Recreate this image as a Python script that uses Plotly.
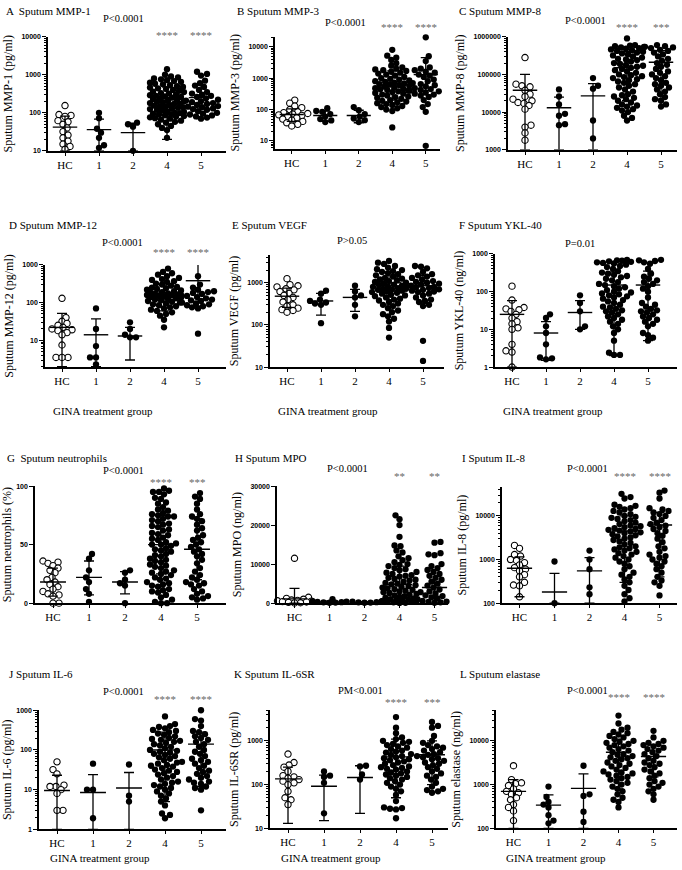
import numpy as np
import plotly.graph_objects as go

W, H = 682, 870
groups = ["HC", "1", "2", "4", "5"]

# ---------------- A  Sputum MMP-1 (pg/ml)
a_hc = [155, 90, 85, 80, 62, 58, 50, 40, 32, 26, 22, 18, 15, 13, 11]
a_g1 = [100, 72, 38, 30, 22, 14, 12]
a_g2 = [55, 50, 43, 10]
a_g4 = [1400, 1000, 900, 850, 800, 760, 720, 680, 650, 620, 580, 560, 530, 500, 480, 460, 440, 420,
        400, 380, 360, 350, 330, 320, 300, 290, 280, 270, 260, 250, 240, 230, 220, 210, 200, 195, 190,
        180, 175, 170, 160, 155, 150, 145, 140, 135, 130, 125, 120, 115, 110, 105, 100, 98, 95, 92, 90,
        86, 82, 80, 76, 72, 70, 66, 62, 58, 55, 50, 45, 40, 35, 22]
a_g5 = [1200, 1050, 950, 700, 600, 520, 480, 400, 350, 320, 300, 280, 260, 240, 220, 210, 200, 190,
        180, 170, 160, 150, 145, 140, 130, 125, 120, 110, 100, 95, 90, 85, 80, 75, 70]
a_mean = [42, 36, 30, 250, 250]
a_hi = [82, 68, 53, 480, 530]
a_lo = [10, 10, 10, 20, 70]
a_ticks = [10, 100, 1000, 10000]
a_stars = ["", "", "", "****", "****"]

# ---------------- B  Sputum MMP-3 (pg/ml)
b_hc = [200, 160, 130, 115, 100, 92, 85, 80, 75, 72, 68, 65, 60, 55, 50, 46, 42, 38, 34, 30]
b_g1 = [110, 90, 85, 72, 60, 50, 45, 40]
b_g2 = [120, 95, 72, 60, 52, 46, 40]
b_g4 = [8000, 5200, 4500, 3800, 3000, 2500, 2200, 2000, 1900, 1800, 1700, 1600, 1500, 1400, 1300,
        1200, 1100, 1000, 950, 900, 850, 800, 760, 720, 680, 650, 620, 600, 570, 540, 500, 480, 460,
        440, 420, 400, 380, 360, 340, 320, 300, 280, 260, 250, 240, 220, 200, 190, 180, 170, 160, 150,
        140, 130, 120, 110, 100, 90, 27]
b_g5 = [20000, 5000, 3500, 2200, 2000, 1800, 1600, 1500, 1300, 1200, 1100, 900, 800, 700, 650, 600,
        550, 500, 480, 450, 420, 400, 380, 350, 320, 300, 280, 250, 200, 150, 120, 85, 7]
b_mean = [70, 65, 65, 750, 1300]
b_hi = [105, 90, 95, 1700, 4500]
b_lo = [42, 42, 38, 200, 300]
b_ticks = [10, 100, 1000, 10000]
b_stars = ["", "", "", "****", "****"]

# ---------------- C  Sputum MMP-8 (pg/ml)
c_hc = [280000, 55000, 50000, 47000, 38000, 30000, 26000, 22000, 20000, 18000, 17000, 15000, 12000,
        4500, 4000, 2800, 1800]
c_g1 = [40000, 26000, 16000, 9000, 8000, 4800, 4500]
c_g2 = [80000, 50000, 42000, 6000, 2000]
c_g4 = [900000, 600000, 580000, 560000, 540000, 520000, 500000, 480000, 460000, 440000, 420000,
        400000, 380000, 360000, 340000, 320000, 300000, 280000, 260000, 250000, 240000, 220000,
        200000, 190000, 180000, 170000, 160000, 150000, 140000, 130000, 120000, 110000, 100000,
        95000, 90000, 85000, 80000, 75000, 70000, 65000, 60000, 55000, 50000, 45000, 40000, 35000,
        30000, 28000, 26000, 24000, 22000, 20000, 18000, 16000, 15000, 14000, 13000, 12000, 11000,
        10000, 8000, 7000, 6000]
c_g5 = [600000, 560000, 540000, 520000, 500000, 450000, 420000, 380000, 340000, 300000, 260000,
        230000, 200000, 180000, 160000, 140000, 120000, 110000, 100000, 90000, 80000, 70000, 60000,
        55000, 50000, 45000, 40000, 35000, 30000, 25000, 22000, 20000, 16000, 14000]
c_mean = [38000, 13000, 27000, 150000, 210000]
c_hi = [100000, 25000, 57000, 400000, 430000]
c_lo = [1000, 1000, 1000, 20000, 22000]
c_ticks = [1000, 10000, 100000, 1000000]
c_stars = ["", "", "", "****", "***"]

# ---------------- D  Sputum MMP-12 (pg/ml)
d_hc = [130, 40, 32, 28, 25, 22, 20, 19, 18, 16, 14, 7.5, 3.5, 3.5, 3.5]
d_g1 = [70, 20, 7, 3.5, 3.5, 2.3]
d_g2 = [30, 20, 14, 12, 12]
d_g4 = [800, 650, 600, 550, 500, 450, 420, 400, 370, 350, 320, 300, 280, 260, 250, 240, 230, 220,
        210, 200, 190, 180, 175, 170, 165, 160, 155, 150, 145, 140, 135, 130, 125, 120, 115, 110, 105,
        100, 95, 90, 85, 80, 75, 70, 65, 60, 55, 50, 45, 35, 22]
d_g5 = [1500, 500, 300, 250, 220, 200, 190, 180, 170, 160, 150, 140, 130, 120, 115, 110, 100, 95,
        90, 85, 80, 75, 70, 15]
d_mean = [22, 14, 13, 180, 380]
d_hi = [52, 37, 22, 420, 1300]
d_lo = [2, 2, 3, 60, 80]
d_ticks = [10, 100, 1000]
d_stars = ["", "", "", "****", "****"]

# ---------------- E  Sputum VEGF (pg/ml)
e_hc = [1250, 900, 850, 800, 720, 680, 620, 560, 500, 450, 400, 350, 300, 280, 250, 230, 220, 200]
e_g1 = [650, 550, 400, 370, 340, 320, 300, 110]
e_g2 = [850, 620, 500, 450, 300, 160]
e_g4 = [3300, 3000, 2800, 2500, 2300, 2100, 2000, 1900, 1800, 1700, 1600, 1500, 1400, 1300, 1250,
        1200, 1150, 1100, 1050, 1000, 950, 900, 880, 850, 820, 800, 780, 750, 720, 700, 680, 650, 620,
        600, 580, 550, 520, 500, 480, 450, 420, 400, 380, 350, 320, 300, 280, 250, 220, 200, 180, 160,
        140, 120, 85, 50]
e_g5 = [2500, 2400, 2200, 1800, 1600, 1500, 1400, 1300, 1200, 1100, 1050, 1000, 950, 900, 850, 800,
        780, 750, 720, 700, 680, 650, 620, 600, 550, 500, 450, 400, 370, 350, 300, 280, 42, 14]
e_mean = [480, 370, 450, 1000, 850]
e_hi = [750, 560, 700, 1800, 1500]
e_lo = [260, 170, 210, 300, 330]
e_ticks = [10, 100, 1000]
e_stars = ["", "", "", "", ""]

# ---------------- F  Sputum YKL-40 (ng/ml)
f_hc = [140, 60, 38, 35, 33, 30, 25, 20, 16, 14, 11, 10, 4, 2.7, 2.5, 1.0]
f_g1 = [25, 20, 12, 8, 4, 1.8, 1.7, 1.6]
f_g2 = [80, 50, 30, 12, 10]
f_g4 = [700, 680, 660, 640, 620, 600, 580, 560, 520, 480, 450, 400, 350, 320, 300, 280, 260, 240,
        220, 200, 180, 160, 150, 140, 130, 120, 110, 100, 95, 90, 85, 80, 75, 70, 65, 60, 55, 50, 45,
        40, 38, 35, 32, 30, 28, 25, 22, 20, 18, 16, 14, 12, 10, 8, 5, 2.4, 2.1, 2.1]
f_g5 = [700, 680, 650, 600, 550, 400, 300, 250, 220, 200, 180, 160, 140, 120, 100, 70, 50, 45, 40,
        35, 32, 30, 28, 25, 22, 20, 18, 16, 14, 12, 8, 7, 6, 5]
f_mean = [25, 8, 28, 150, 150]
f_hi = [58, 16, 58, 330, 350]
f_lo = [1, 1.5, 10, 2, 5]
f_ticks = [1, 10, 100, 1000]
f_stars = ["", "", "", "", ""]

# ---------------- G  Sputum neutrophils (%)
g_hc = [36, 35, 34, 32, 30, 28, 26, 22, 20, 18, 16, 14, 12, 10, 8, 7, 6, 0, 0]
g_g1 = [42, 38, 28, 22, 18, 12, 8, 1]
g_g2 = [28, 26, 20, 17, 15, 0]
g_g4 = [98, 96, 95, 95, 93, 90, 89, 86, 85, 82, 80, 79, 77, 76, 75, 74, 74, 72, 71, 70, 68, 67, 66,
        65, 63, 62, 60, 59, 58, 56, 55, 54, 52, 51, 50, 50, 49, 47, 46, 45, 44, 42, 41, 40, 38, 37, 36,
        35, 33, 32, 31, 30, 28, 27, 26, 25, 24, 22, 21, 20, 18, 17, 16, 15, 14, 12, 11, 10, 9, 7, 5, 3,
        1, 0, 0]
g_g5 = [94, 91, 89, 85, 80, 76, 74, 72, 70, 67, 64, 62, 58, 56, 54, 52, 50, 48, 46, 44, 42, 40, 37,
        34, 30, 27, 24, 22, 20, 18, 17, 16, 15, 12, 10, 8, 6, 5, 4, 3]
g_mean = [18, 22, 18, 50, 46]
g_hi = [30, 36, 27, 75, 72]
g_lo = [6, 7, 8, 25, 20]
g_ticks = [0, 50, 100]
g_stars = ["", "", "", "****", "***"]

# ---------------- H  Sputum MPO (ng/ml)
h_hc = [11500, 1500, 1200, 1000, 800, 700, 600, 500, 400, 300, 200, 100, 50]
h_g1 = [1000, 500, 350, 300, 250, 200, 150, 100]
h_g2 = [450, 350, 250, 200, 150, 100]
h_g4 = [22500, 21500, 20000, 17000, 14800, 14600, 13500, 13000, 12000, 11500, 11000, 10500, 10000,
        9800, 9500, 9000, 8700, 8400, 8000, 7800, 7500, 7200, 7000, 6800, 6500, 6200, 6000, 5800,
        5500, 5200, 5000, 4800, 4600, 4400, 4200, 4000, 3800, 3600, 3400, 3200, 3000, 2800, 2600,
        2400, 2200, 2000, 1800, 1600, 1400, 1200, 1000, 900, 800, 700, 600, 500, 400, 300, 200, 100, 50]
h_g5 = [15700, 15500, 12800, 12500, 12300, 10000, 9500, 9000, 8500, 8000, 7500, 7000, 6500, 6000,
        5500, 5000, 4500, 4000, 3500, 3000, 2800, 2500, 2200, 2000, 1800, 1500, 1200, 1000, 800, 600,
        400, 300, 200, 100]
h_mean = [1100, 300, 200, 4800, 4000]
h_hi = [3800, 550, 350, 9500, 8500]
h_lo = [0, 50, 50, 200, 0]
h_ticks = [0, 10000, 20000, 30000]
h_stars = ["", "", "", "**", "**"]

# ---------------- I  Sputum IL-8 (pg/ml)
i_hc = [2100, 1800, 1300, 1200, 1000, 950, 850, 750, 650, 600, 550, 450, 400, 300, 260, 250, 140]
i_g1 = [900, 100]
i_g2 = [1600, 1000, 600, 230, 160]
i_g4 = [32000, 27000, 25000, 18000, 17000, 16000, 15000, 14000, 13000, 12000, 11000, 10000, 9500,
        9000, 8500, 8000, 7500, 7000, 6500, 6000, 5800, 5500, 5200, 5000, 4800, 4600, 4400, 4200,
        4000, 3800, 3600, 3400, 3200, 3000, 2800, 2600, 2400, 2200, 2000, 1900, 1800, 1700, 1600,
        1500, 1400, 1300, 1200, 1100, 1000, 900, 800, 700, 600, 500, 450, 400, 350, 300, 250, 200,
        160, 130, 110]
i_g5 = [38000, 34000, 25000, 15000, 14000, 13000, 12000, 11000, 10000, 9000, 8000, 7000, 6500, 6000,
        5500, 5000, 4500, 4000, 3500, 3000, 2500, 2000, 1800, 1500, 1300, 1200, 1100, 1000, 900, 800,
        700, 600, 500, 400, 330, 300, 250, 150]
i_mean = [630, 180, 550, 4500, 6200]
i_hi = [1150, 480, 1100, 10000, 12000]
i_lo = [140, 100, 100, 300, 400]
i_ticks = [100, 1000, 10000]
i_stars = ["", "", "", "****", "****"]

# ---------------- J  Sputum IL-6 (pg/ml)
j_hc = [50, 32, 25, 13, 12, 12, 10, 8, 3, 3]
j_g1 = [45, 10, 10, 1.9]
j_g2 = [43, 7, 5]
j_g4 = [700, 450, 400, 380, 350, 320, 300, 280, 260, 240, 220, 200, 190, 180, 170, 160, 150, 140,
        130, 120, 110, 100, 95, 90, 85, 80, 75, 70, 65, 60, 55, 50, 48, 45, 42, 40, 38, 35, 32, 30,
        28, 26, 24, 22, 20, 18, 16, 15, 14, 13, 12, 11, 10, 9, 8, 7, 6, 5, 4, 2.5, 2.3, 1.9]
j_g5 = [1000, 600, 550, 400, 300, 280, 250, 220, 200, 180, 160, 140, 120, 100, 90, 80, 70, 60, 55,
        50, 45, 40, 35, 30, 28, 25, 22, 20, 18, 16, 15, 14, 12, 11, 10, 3]
j_mean = [9.5, 8.5, 11, 100, 140]
j_hi = [23, 24, 27, 280, 280]
j_lo = [1, 1, 1, 5, 12]
j_ticks = [1, 10, 100, 1000]
j_stars = ["", "", "", "****", "****"]

# ---------------- K  Sputum IL-6SR (pg/ml)
k_hc = [500, 320, 280, 250, 200, 160, 150, 140, 130, 120, 110, 100, 70, 50, 45, 35]
k_g1 = [200, 160, 150, 110, 22]
k_g2 = [270, 260, 170, 130]
k_g4 = [3500, 2000, 1500, 1200, 1100, 1000, 950, 900, 850, 800, 750, 700, 650, 600, 570, 540, 500,
        480, 450, 420, 400, 380, 360, 340, 320, 300, 280, 260, 250, 240, 230, 220, 200, 190, 180, 170,
        160, 150, 140, 130, 120, 110, 100, 90, 80, 70, 58, 42, 30, 29, 28, 27, 17]
k_g5 = [2700, 2200, 2000, 1300, 1000, 900, 800, 750, 700, 650, 600, 550, 500, 480, 450, 420, 400,
        380, 350, 320, 300, 280, 250, 230, 200, 180, 160, 150, 130, 110, 90, 80, 75, 70, 65]
k_mean = [135, 92, 145, 430, 480]
k_hi = [250, 165, 270, 1100, 1000]
k_lo = [13, 15, 22, 50, 100]
k_ticks = [10, 100, 1000]
k_stars = ["", "", "", "****", "***"]

# ---------------- L  Sputum elastase (ng/ml)
l_hc = [2700, 1300, 1100, 1050, 950, 800, 700, 650, 600, 500, 450, 350, 300, 250, 150]
l_g1 = [900, 520, 400, 350, 300, 200, 150, 130]
l_g2 = [2700, 600, 550, 240, 140]
l_g4 = [38000, 25000, 20000, 18000, 16000, 15000, 14000, 13000, 12000, 11000, 10000, 9500, 9000,
        8500, 8000, 7500, 7000, 6500, 6000, 5500, 5000, 4800, 4500, 4200, 4000, 3800, 3500, 3200,
        3000, 2800, 2600, 2400, 2200, 2000, 1900, 1800, 1700, 1600, 1500, 1400, 1300, 1200, 1100,
        1000, 900, 800, 700, 600, 500, 450, 400, 300]
l_g5 = [17000, 12000, 10000, 9000, 8500, 8000, 7500, 7000, 6500, 6000, 5500, 5000, 4500, 4000, 3500,
        3200, 3000, 2800, 2500, 2200, 2000, 1800, 1600, 1400, 1200, 1100, 1000, 900, 800, 700, 600, 450]
l_mean = [700, 340, 820, 5500, 4400]
l_hi = [1300, 580, 1750, 11000, 8000]
l_lo = [100, 100, 100, 800, 1500]
l_ticks = [100, 1000, 10000]
l_stars = ["", "", "", "****", "****"]

panels = [
    ("A  Sputum MMP-1", "Sputum MMP-1 (pg/ml)", [a_hc, a_g1, a_g2, a_g4, a_g5], a_mean, a_hi, a_lo, a_ticks, "P<0.0001", a_stars),
    ("B Sputum MMP-3", "Sputum MMP-3 (pg/ml)", [b_hc, b_g1, b_g2, b_g4, b_g5], b_mean, b_hi, b_lo, b_ticks, "P<0.0001", b_stars),
    ("C Sputum MMP-8", "Sputum MMP-8 (pg/ml)", [c_hc, c_g1, c_g2, c_g4, c_g5], c_mean, c_hi, c_lo, c_ticks, "P<0.0001", c_stars),
    ("D Sputum MMP-12", "Sputum MMP-12 (pg/ml)", [d_hc, d_g1, d_g2, d_g4, d_g5], d_mean, d_hi, d_lo, d_ticks, "P<0.0001", d_stars),
    ("E Sputum VEGF", "Sputum VEGF (pg/ml)", [e_hc, e_g1, e_g2, e_g4, e_g5], e_mean, e_hi, e_lo, e_ticks, "P>0.05", e_stars),
    ("F Sputum YKL-40", "Sputum YKL-40 (ng/ml)", [f_hc, f_g1, f_g2, f_g4, f_g5], f_mean, f_hi, f_lo, f_ticks, "P=0.01", f_stars),
    ("G  Sputum neutrophils", "Sputum neutrophils (%)", [g_hc, g_g1, g_g2, g_g4, g_g5], g_mean, g_hi, g_lo, g_ticks, "P<0.0001", g_stars),
    ("H Sputum MPO", "Sputum MPO (ng/ml)", [h_hc, h_g1, h_g2, h_g4, h_g5], h_mean, h_hi, h_lo, h_ticks, "P<0.0001", h_stars),
    ("I Sputum IL-8", "Sputum IL-8 (pg/ml)", [i_hc, i_g1, i_g2, i_g4, i_g5], i_mean, i_hi, i_lo, i_ticks, "P<0.0001", i_stars),
    ("J Sputum IL-6", "Sputum IL-6 (pg/ml)", [j_hc, j_g1, j_g2, j_g4, j_g5], j_mean, j_hi, j_lo, j_ticks, "P<0.0001", j_stars),
    ("K Sputum IL-6SR", "Sputum IL-6SR (pg/ml)", [k_hc, k_g1, k_g2, k_g4, k_g5], k_mean, k_hi, k_lo, k_ticks, "PM<0.001", k_stars),
    ("L Sputum elastase", "Sputum elastase (ng/ml)", [l_hc, l_g1, l_g2, l_g4, l_g5], l_mean, l_hi, l_lo, l_ticks, "P<0.0001", l_stars),
]

# frame of each panel in pixels: axis left, axis right, top, bottom, category spacing, log?, y range
frames = [
    (48, 226, 33, 148, 34, True, [1, 4]),
    (275, 440, 33, 146, 33.5, True, [0.75, 4.32]),
    (508, 677, 33, 147, 34, True, [3, 6]),
    (45, 226, 263, 366, 34, True, [0.29, 3]),
    (270, 444, 253, 366, 34, True, [1, 3.66]),
    (495, 677, 252, 366, 34, True, [0, 3]),
    (35, 226, 486, 604, 36, False, [0, 100]),
    (277, 448, 486, 604, 35, False, [0, 30000]),
    (502, 677, 487, 604, 35, True, [2, 4.66]),
    (39, 226, 712, 832, 36, True, [0, 3]),
    (270, 448, 712, 831, 36, True, [1, 3.7]),
    (496, 677, 712, 831, 35, True, [2, 4.7]),
]
# text positions in pixels: panel title (x, y), P value (x, y), stars y
texts = [
    (4, 7, 123, 15, 31), (235, 7, 345, 19, 23), (457, 7, 585, 17, 23),
    (7, 223, 122, 240, 250), (230, 223, 352, 238, 250), (457, 223, 580, 241, 250),
    (5, 458, 123, 470, 482), (233, 458, 347, 468, 476), (460, 458, 587, 468, 476),
    (7, 675, 123, 693, 701), (232, 675, 360, 692, 704), (458, 675, 587, 692, 699),
]
xtitle_y = {3: 410, 4: 410, 5: 410, 9: 861, 10: 861, 11: 861}

SERIF = "Liberation Serif"
SANS = "Liberation Sans"


def swarm(ypx, diam=5.4, maxw=17):
    # simple beeswarm: place points from low to high, nearest free horizontal slot
    order = np.argsort(ypx)
    placed = []
    offs = np.zeros(len(ypx))
    cands = [0]
    for k in range(1, maxw + 1):
        cands += [k, -k]
    for n, i in enumerate(order):
        y = ypx[i]
        near = [(px, py) for px, py in placed if abs(py - y) < diam]
        best, bestd = 0, -1
        sgn = 1 if n % 2 else -1
        for c in cands:
            c = c * sgn
            d = min([np.hypot(c - px, y - py) for px, py in near], default=99)
            if d >= diam:
                best = c
                break
            if d > bestd:
                best, bestd = c, d
        offs[i] = best
        placed.append((best, y))
    return offs


fig = go.Figure()
lay = {}
ann = []

for n, (pan, fr, tx) in enumerate(zip(panels, frames, texts)):
    title, ytitle, pts, mean, hi, lo, ticks, ptxt, stars = pan
    left, right, top, bot, sp, logy, yr = fr
    k = "" if n == 0 else str(n + 1)
    xa, ya = "x" + k, "y" + k

    hpx = bot - top
    for g, vals in enumerate(pts):
        v = np.array(vals, dtype=float)
        f = np.log10(v) if logy else v
        ypx = (f - yr[0]) / (yr[1] - yr[0]) * hpx
        xs = g + swarm(ypx) / sp
        if g == 0:
            mk = dict(size=6.3, color="white", line=dict(color="black", width=1.1))
        else:
            mk = dict(size=6.3, color="black", line=dict(width=0))
        fig.add_trace(go.Scatter(x=xs, y=vals, mode="markers", marker=mk, xaxis=xa, yaxis=ya,
                                 cliponaxis=False, hoverinfo="y"))

    # mean lines
    mx, my = [], []
    for g, m in enumerate(mean):
        mx += [g - 0.36, g + 0.36, None]
        my += [m, m, None]
    fig.add_trace(go.Scatter(x=mx, y=my, mode="lines", line=dict(color="black", width=1.4),
                             xaxis=xa, yaxis=ya, cliponaxis=False, hoverinfo="skip"))
    # SD bars
    fig.add_trace(go.Scatter(
        x=list(range(5)), y=mean, mode="markers", marker=dict(size=1, color="rgba(0,0,0,0)"),
        error_y=dict(type="data", symmetric=False,
                     array=[h - m for h, m in zip(hi, mean)],
                     arrayminus=[m - l for m, l in zip(mean, lo)],
                     color="black", thickness=1.3, width=5),
        xaxis=xa, yaxis=ya, cliponaxis=False, hoverinfo="skip"))

    lay["xaxis" + k] = dict(
        domain=[left / W, right / W], range=[-0.5, -0.5 + (right - left) / sp], anchor=ya,
        tickmode="array", tickvals=list(range(5)), ticktext=groups, ticks="outside", ticklen=3,
        tickwidth=1.2, tickcolor="black",
        showline=True, linecolor="black", linewidth=1.5, showgrid=False, zeroline=False,
        tickfont=dict(family=SERIF, size=11, color="black"))
    yax = dict(
        domain=[1 - bot / H, 1 - top / H], anchor=xa, type="log" if logy else "linear", range=yr,
        tickmode="array", tickvals=ticks, ticktext=[str(t) for t in ticks],
        ticks="outside", ticklen=4, tickwidth=1.2, tickcolor="black",
        showline=True, linecolor="black", linewidth=1.5, showgrid=False, zeroline=False,
        tickfont=dict(family=SANS, size=7, color="black", weight="bold"),
        title=dict(text=ytitle, font=dict(family=SERIF, size=12, color="black"), standoff=6))
    if logy:
        yax["minor"] = dict(ticks="outside", ticklen=2, tickwidth=0.8, tickcolor="black",
                            dtick="D1", showgrid=False)
    lay["yaxis" + k] = yax

    tx0, ty0, px0, py0, sy = tx
    ann.append(dict(text=title, x=tx0 / W, y=1 - ty0 / H, xref="paper", yref="paper",
                    xanchor="left", yanchor="middle", showarrow=False,
                    font=dict(family=SERIF, size=11, color="black")))
    ann.append(dict(text=ptxt, x=px0 / W, y=1 - py0 / H, xref="paper", yref="paper",
                    xanchor="center", yanchor="middle", showarrow=False,
                    font=dict(family=SERIF, size=10.5, color="black")))
    for g, s in enumerate(stars):
        if s:
            ann.append(dict(text=s, x=g, y=1 - sy / H, xref=xa, yref="paper",
                            xanchor="center", yanchor="middle", showarrow=False,
                            font=dict(family=SERIF, size=11, color="#666666")))
    if n in xtitle_y:
        ann.append(dict(text="GINA treatment group", x=1.2, y=1 - xtitle_y[n] / H,
                        xref=xa, yref="paper", xanchor="center", yanchor="middle",
                        showarrow=False, font=dict(family=SERIF, size=11, color="black")))

fig.update_layout(
    width=W, height=H, margin=dict(l=0, r=0, t=0, b=0),
    paper_bgcolor="white", plot_bgcolor="white", showlegend=False,
    annotations=ann, **lay)

fig.write_html("out.html", config={"displayModeBar": False},
               post_script="document.body.style.margin='0';")
